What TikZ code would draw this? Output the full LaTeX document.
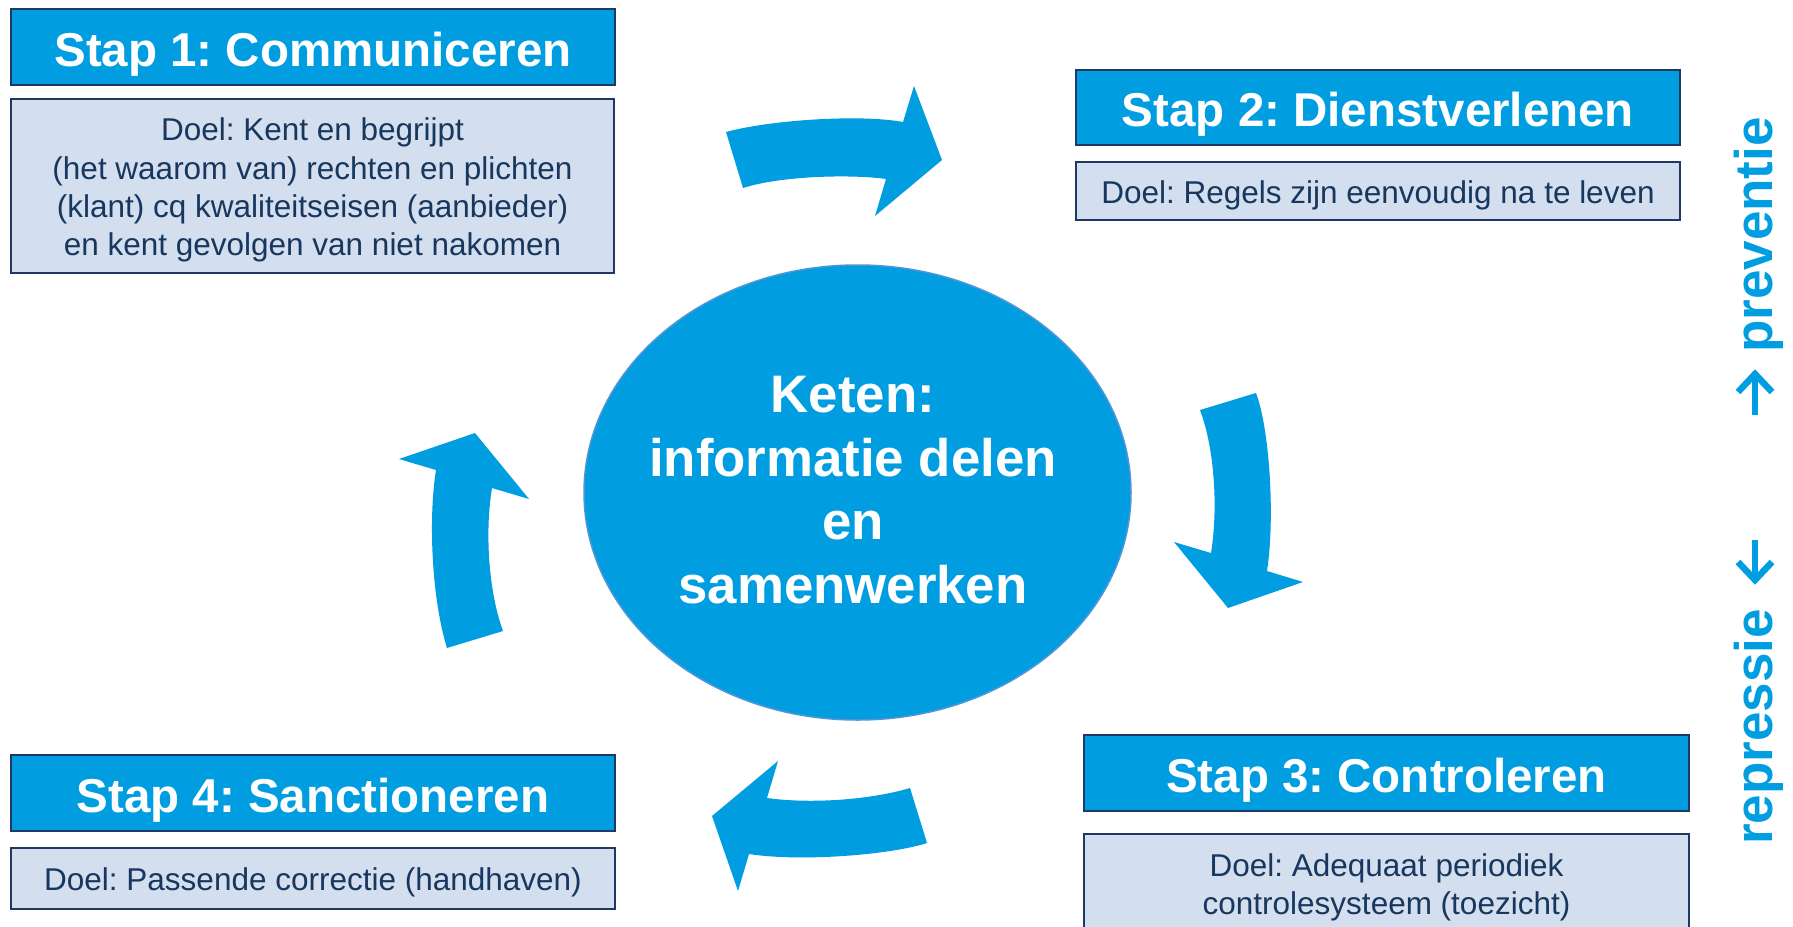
\documentclass[tikz,border=0pt]{standalone}
\usepackage{fontspec}
\setmainfont{Liberation Sans}
\frenchspacing
\usetikzlibrary{shapes.geometric}
\definecolor{hdrblue}{RGB}{0,158,224}
\definecolor{navy}{RGB}{31,56,100}
\definecolor{goalfill}{RGB}{211,222,238}
\definecolor{goaltext}{RGB}{23,55,94}
\definecolor{ellborder}{RGB}{80,150,215}
\newcommand{\gtxt}[2][-4.5pt]{\raisebox{#1}[\height][\depth]{\begin{tabular}{@{}c@{}}#2\end{tabular}}}
\tikzset{
  hdr/.style={draw=navy, line width=2pt, fill=hdrblue, text=white, inner sep=0pt,
    text height=38pt, text depth=0pt,
    font=\fontsize{47.5}{57}\selectfont\bfseries},
  goal/.style={draw=navy, line width=2pt, fill=goalfill, text=goaltext, inner sep=0pt,
    font=\fontsize{31.5}{38.3}\selectfont},
  blockarrow/.style={fill=hdrblue, draw=none},
  sidetext/.style={text=hdrblue, font=\fontsize{53}{60}\selectfont\bfseries, rotate=90,
    anchor=base west, inner sep=0pt},
  sideshaft/.style={draw=hdrblue, line width=5.5pt},
  sidehead/.style={draw=hdrblue, line width=6.5pt, miter limit=4},
}
\begin{document}
\begin{tikzpicture}[x=1pt,y=-1pt]
\clip (0,0) rectangle (1793,926);
\fill[white] (0,0) rectangle (1793,926);

% Step boxes
\node[hdr, minimum width=604pt, minimum height=76pt] (h1) at (313,47) {Stap 1: Communiceren};
\node[goal, minimum width=603pt, minimum height=174pt] (g1) at (312.5,186)
  {\gtxt{Doel: Kent en begrijpt\\(het waarom van) rechten en plichten\\(klant) cq kwaliteitseisen (aanbieder)\\en kent gevolgen van niet nakomen}};

\node[hdr, minimum width=604pt, minimum height=75pt] (h2) at (1378,107.5) {Stap 2: Dienstverlenen};
\node[goal, minimum width=604pt, minimum height=58pt] (g2) at (1378,191) {\gtxt{Doel: Regels zijn eenvoudig na te leven}};

\node[hdr, minimum width=605pt, minimum height=76pt] (h3) at (1386.5,773) {Stap 3: Controleren};
\node[goal, minimum width=605pt, minimum height=106pt] (g3) at (1386.5,887) {\gtxt[-1pt]{Doel: Adequaat periodiek\\controlesysteem (toezicht)}};

\node[hdr, minimum width=604pt, minimum height=76pt] (h4) at (313,793) {Stap 4: Sanctioneren};
\node[goal, minimum width=604pt, minimum height=61pt] (g4) at (313,878.5) {\gtxt{Doel: Passende correctie (handhaven)}};

% Central ellipse
\node[ellipse, fill=hdrblue, draw=ellborder, line width=1.5pt, minimum width=547pt, minimum height=455pt, inner sep=0pt] (kring) at (857.5,492.5) {};
\node[text=white, align=center, inner sep=0pt, font=\fontsize{52.8}{63.7}\selectfont\bfseries] (keten) at (853,490)
  {Keten:\\informatie delen\\en\\samenwerken};

% Curved block arrows
\fill[blockarrow] (726,132) .. controls (770,120) and (860,114) .. (903,122) -- (914,86) -- (942,160) -- (875,216) -- (886,179) .. controls (850,174) and (780,176) .. (743,188) -- cycle;
\fill[blockarrow] (1256,393) .. controls (1270,430) and (1275,520) .. (1267,571) -- (1303,582) -- (1228,608) -- (1174,542) -- (1211,553) .. controls (1218,510) and (1215,450) .. (1200,410) -- cycle;
\fill[blockarrow] (927,843) .. controls (890,855) and (800,862) .. (749,854) -- (738,891) -- (712,816) -- (778,761) -- (767,798) .. controls (810,804) and (870,800) .. (910,788) -- cycle;
\fill[blockarrow] (447,648) .. controls (432,600) and (428,520) .. (436,470) -- (399,459) -- (475,433) -- (529,499) -- (492,488) .. controls (485,530) and (488,590) .. (503,631) -- cycle;

% Side labels
\node[sidetext] (prev) at (1772,353) {preventie};
\node[sidetext] (repr) at (1772,845) {repressie};
\coordinate (upfoot) at (1755,415);
\coordinate (uptip) at (1755,374);
\coordinate (dnfoot) at (1755,540);
\coordinate (dntip) at (1755,580);
\draw[sideshaft] (upfoot) -- ([yshift=-3pt]uptip);
\draw[sidehead] ([shift={(-17pt,-18pt)}]uptip) -- (uptip) -- ([shift={(17pt,-18pt)}]uptip);
\draw[sideshaft] (dnfoot) -- ([yshift=3pt]dntip);
\draw[sidehead] ([shift={(-17pt,18pt)}]dntip) -- (dntip) -- ([shift={(17pt,18pt)}]dntip);
\end{tikzpicture}
\end{document}
